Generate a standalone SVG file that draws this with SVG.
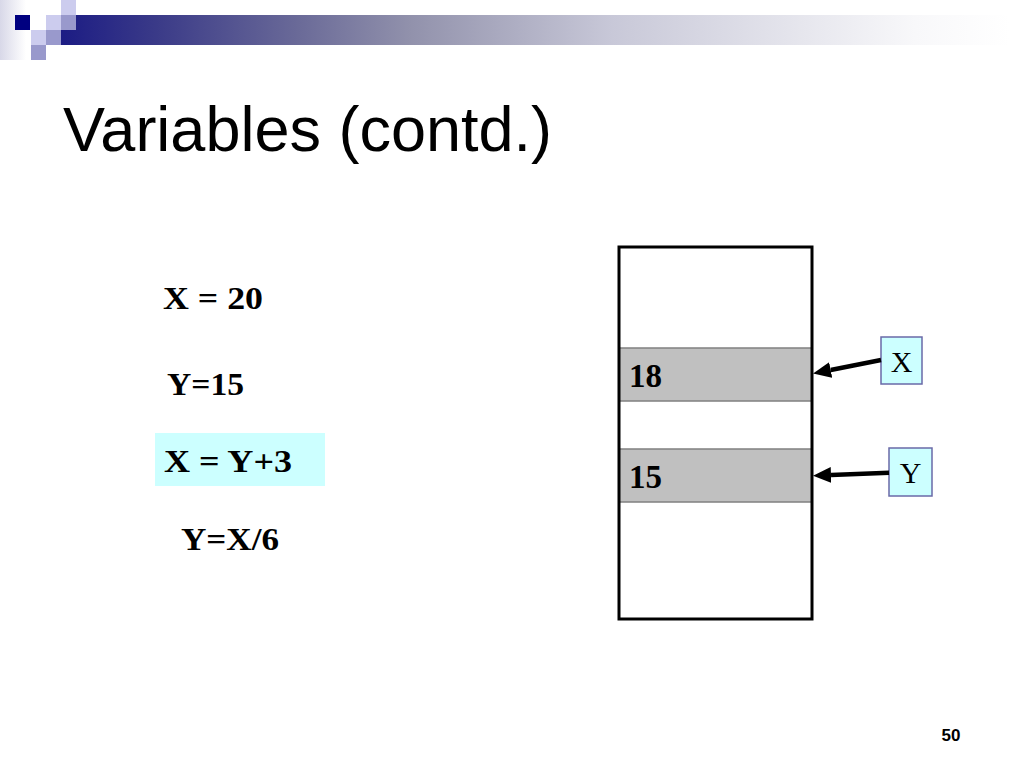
<svg xmlns="http://www.w3.org/2000/svg" width="1024" height="768" viewBox="0 0 1024 768">
  <defs>
    <linearGradient id="barGrad" x1="61" y1="0" x2="1010" y2="0" gradientUnits="userSpaceOnUse">
      <stop offset="0" stop-color="#1c1c84"/>
      <stop offset="0.1" stop-color="#3a3a88"/>
      <stop offset="0.25" stop-color="#6a6a98"/>
      <stop offset="0.37" stop-color="#9292ac"/>
      <stop offset="0.58" stop-color="#c8c8d8"/>
      <stop offset="0.9" stop-color="#f8f8fa"/>
      <stop offset="1" stop-color="#ffffff"/>
    </linearGradient>
    <linearGradient id="stripGrad" x1="0" y1="0" x2="1" y2="0">
      <stop offset="0" stop-color="#d8d8e8"/>
      <stop offset="1" stop-color="#ffffff"/>
    </linearGradient>
    <marker id="arrow" viewBox="0 0 18 16" refX="0" refY="8" markerWidth="18" markerHeight="16" markerUnits="userSpaceOnUse" orient="auto">
      <path d="M0,0 L18,8 L0,16 z" fill="#000"/>
    </marker>
    <style>
      .code { font-family: "Liberation Serif", "Times New Roman", serif; font-weight: bold; font-size: 32px; fill: #000; }
      .val { font-family: "Liberation Serif", "Times New Roman", serif; font-weight: bold; font-size: 33px; fill: #000; }
      .lbl { font-family: "Liberation Serif", "Times New Roman", serif; font-size: 30px; fill: #000; text-anchor: middle; }
      .lblbox { fill: #ccffff; stroke: #6a6aa8; stroke-width: 1.5; }
      .cell { fill: #c0c0c0; stroke: #808080; stroke-width: 1.5; }
      .sqL { fill: #ccccee; }
      .sqM { fill: #9999cc; }
      .conn { stroke: #000; stroke-width: 4.5; fill: none; marker-end: url(#arrow); }
    </style>
  </defs>

  <rect width="1024" height="768" fill="#ffffff"/>

  <!-- header decoration -->
  <g id="header">
    <rect x="0" y="0" width="26" height="60" fill="url(#stripGrad)"/>
    <rect x="61" y="15" width="963" height="30" fill="url(#barGrad)"/>
    <rect x="15" y="15" width="15" height="15" fill="#000080"/>
    <rect class="sqL" x="46" y="15" width="15" height="15"/>
    <rect class="sqL" x="61" y="0" width="15" height="15"/>
    <rect class="sqM" x="61" y="15" width="15" height="15"/>
    <rect class="sqL" x="31" y="30" width="15" height="15"/>
    <rect class="sqM" x="46" y="30" width="15" height="15"/>
    <rect class="sqM" x="31" y="45" width="15" height="15"/>
  </g>

  <text x="63" y="151" font-family="Liberation Sans, Arial, sans-serif" font-size="63" fill="#000">Variables (contd.)</text>

  <!-- statements -->
  <g id="stmt1"><text class="code" x="163" y="309" textLength="100" lengthAdjust="spacingAndGlyphs">X = 20</text></g>
  <g id="stmt2"><text class="code" x="167" y="395" textLength="77" lengthAdjust="spacingAndGlyphs">Y=15</text></g>
  <g id="stmt3">
    <rect x="155" y="433" width="170" height="53" fill="#ccffff"/>
    <text class="code" x="164" y="472" textLength="128" lengthAdjust="spacingAndGlyphs">X = Y+3</text>
  </g>
  <g id="stmt4"><text class="code" x="181" y="550" textLength="98" lengthAdjust="spacingAndGlyphs">Y=X/6</text></g>

  <!-- memory -->
  <g id="memory">
    <rect x="619" y="247" width="193" height="372" fill="#ffffff"/>
    <g id="cellX">
      <rect class="cell" x="619" y="348" width="193" height="53"/>
      <text class="val" x="629" y="387">18</text>
    </g>
    <g id="cellY">
      <rect class="cell" x="619" y="449" width="193" height="53"/>
      <text class="val" x="629" y="488">15</text>
    </g>
    <rect x="619" y="247" width="193" height="372" fill="none" stroke="#000" stroke-width="3"/>
  </g>

  <g id="labelX">
    <rect class="lblbox" x="881" y="337" width="41" height="47"/>
    <text class="lbl" x="901.5" y="372">X</text>
  </g>
  <g id="labelY">
    <rect class="lblbox" x="889" y="448" width="43" height="48"/>
    <text class="lbl" x="910.5" y="483">Y</text>
  </g>

  <g id="connectors">
    <line class="conn" x1="881" y1="360" x2="830.7" y2="370"/>
    <line class="conn" x1="889" y1="472.7" x2="831" y2="475"/>
  </g>

  <text x="951" y="741" font-family="Liberation Sans, Arial, sans-serif" font-weight="bold" font-size="17" fill="#000" text-anchor="middle">50</text>
</svg>
